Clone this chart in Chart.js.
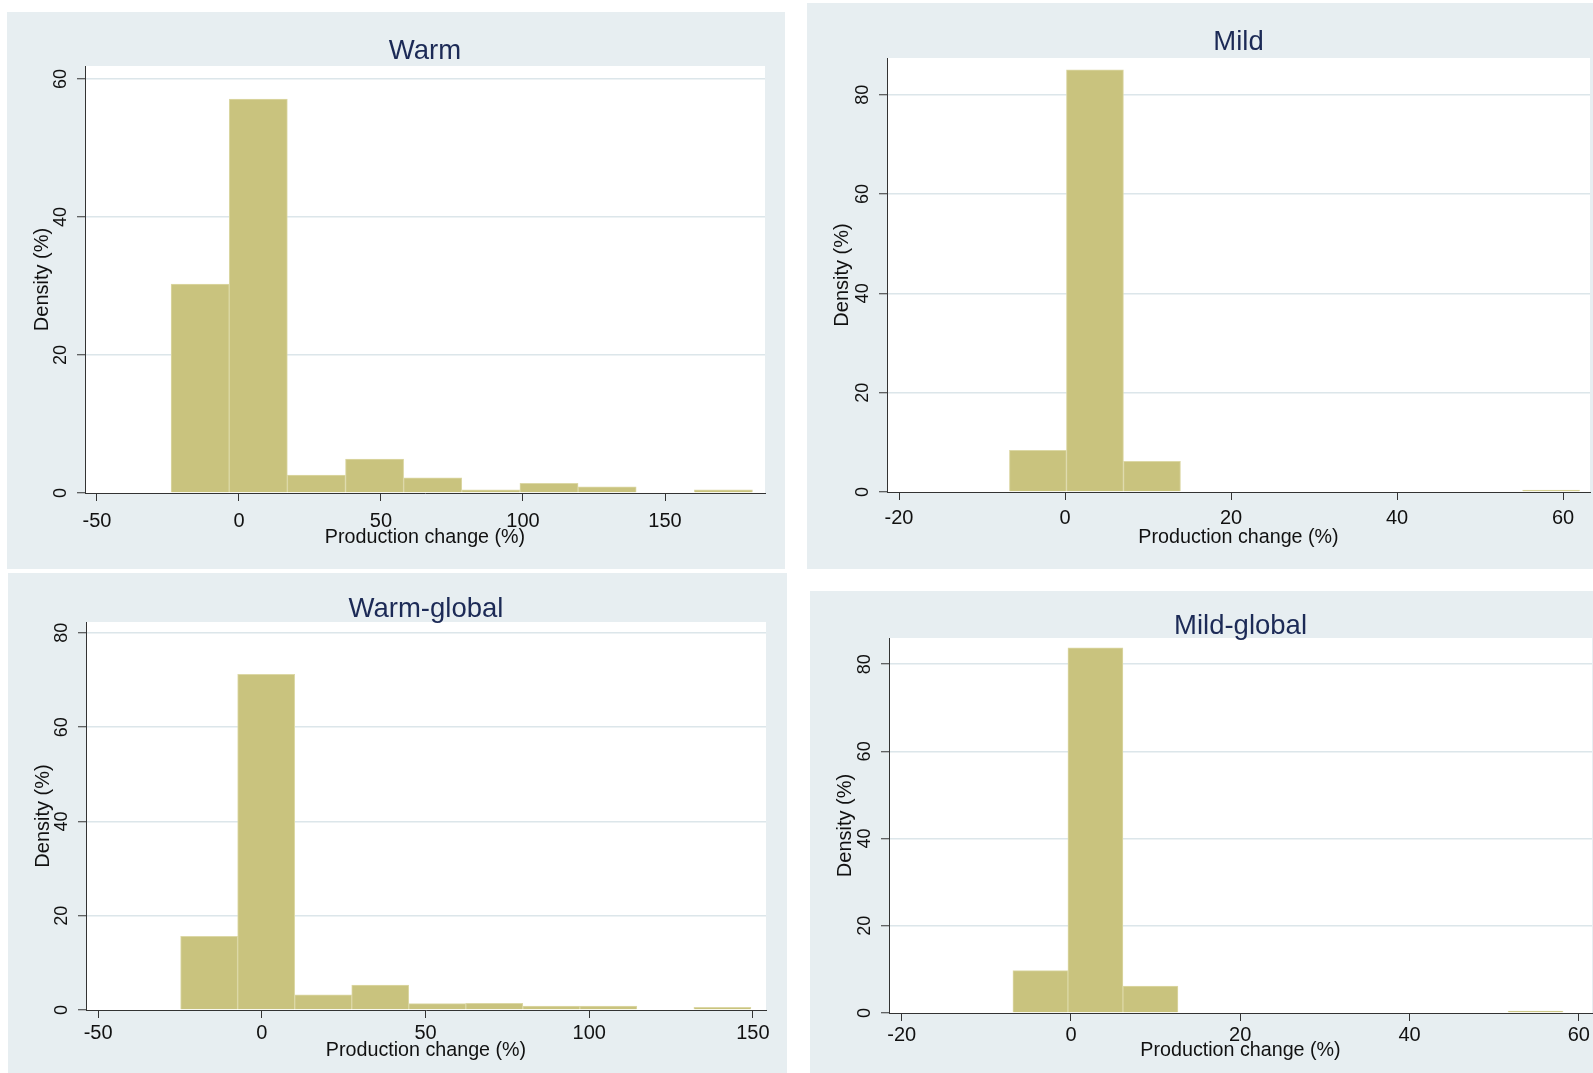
<!DOCTYPE html>
<html>
<head>
<meta charset="utf-8">
<script src="https://cdn.jsdelivr.net/npm/chart.js@4.4.1/dist/chart.umd.min.js"></script>
<style>
  html, body { margin: 0; padding: 0; background: #fff; }
  body { width: 1593px; height: 1073px; position: relative; overflow: hidden; }
  .panel { position: absolute; background: #e7eef1; }
  .panel canvas { display: block; }
</style>
</head>
<body>
<div class="panel" style="left:7px;top:12px;width:778px;height:557px"><canvas id="warm" width="778" height="557"></canvas></div>
<div class="panel" style="left:807px;top:3px;width:786px;height:566px"><canvas id="mild" width="786" height="566"></canvas></div>
<div class="panel" style="left:8px;top:573px;width:779px;height:500px"><canvas id="warmGlobal" width="779" height="500"></canvas></div>
<div class="panel" style="left:810px;top:591px;width:783px;height:482px"><canvas id="mildGlobal" width="783" height="482"></canvas></div>
<script>
// histogram bins: lower bound of each bin and its density (%)
const warmBinStarts = [-23.9, -3.43, 17.04, 37.51, 57.98, 78.45, 98.92, 119.39, 139.86, 160.33];
const warmDensity = [30.3, 57.1, 2.6, 4.9, 2.2, 0.47, 1.4, 0.9, 0, 0.47];
const warmXTicks = [-50, 0, 50, 100, 150];
const warmYTicks = [0, 20, 40, 60];

const mildBinStarts = [-6.7, 0.17, 7.04, 13.91, 20.78, 27.65, 34.52, 41.39, 48.26, 55.13];
const mildDensity = [8.4, 85.0, 6.2, 0, 0, 0, 0, 0, 0, 0.37];
const mildXTicks = [-20, 0, 20, 40, 60];
const mildYTicks = [0, 20, 40, 60, 80];

const warmGlobalBinStarts = [-24.8, -7.38, 10.04, 27.46, 44.88, 62.3, 79.72, 97.14, 114.56, 131.98];
const warmGlobalDensity = [15.6, 71.2, 3.2, 5.3, 1.35, 1.4, 0.85, 0.85, 0, 0.57];
const warmGlobalXTicks = [-50, 0, 50, 100, 150];
const warmGlobalYTicks = [0, 20, 40, 60, 80];

const mildGlobalBinStarts = [-6.86, -0.36, 6.14, 12.64, 19.14, 25.64, 32.14, 38.64, 45.14, 51.64];
const mildGlobalDensity = [9.7, 83.75, 6.2, 0, 0, 0, 0, 0, 0, 0.46];
const mildGlobalXTicks = [-20, 0, 20, 40, 60];
const mildGlobalYTicks = [0, 20, 40, 60, 80];

const FONT = "'Liberation Sans', Arial, sans-serif";
const AXIS_COLOR = '#333333';
const GRID_COLOR = '#dce6ea';
const BAR_FILL = '#c9c37e';
const BAR_EDGE = '#dcd8a6';

// white plot region inside the tinted panel
const plotBackground = {
  id: 'plotBackground',
  beforeDraw: (chart) => {
    const { ctx, chartArea } = chart;
    ctx.save();
    ctx.fillStyle = '#ffffff';
    ctx.fillRect(chartArea.left, chartArea.top, chartArea.right - chartArea.left, chartArea.bottom - chartArea.top);
    ctx.restore();
  },
};

const makeHistogram = (cfg) => {
  const width = cfg.binStarts[1] - cfg.binStarts[0];
  const points = cfg.binStarts.map((start, i) => ({ x: start + width / 2, y: cfg.density[i] }));

  return new Chart(document.getElementById(cfg.id), {
    type: 'bar',
    data: {
      datasets: [
        {
          data: points,
          backgroundColor: BAR_FILL,
          borderColor: BAR_EDGE,
          borderWidth: 1,
          borderSkipped: 'bottom',
          barPercentage: 1,
          categoryPercentage: 1,
        },
      ],
    },
    plugins: [plotBackground],
    options: {
      responsive: false,
      animation: false,
      devicePixelRatio: 1,
      layout: { padding: { left: 0, right: cfg.rightPad, top: 0, bottom: 0 } },
      plugins: {
        legend: { display: false },
        tooltip: { enabled: false },
        title: {
          display: true,
          fullSize: false,
          text: cfg.title,
          color: '#1c2a56',
          font: { family: FONT, size: 27.5, weight: 'normal', lineHeight: 0.8 },
          padding: { top: cfg.titleTop, bottom: cfg.titleBottom },
        },
      },
      scales: {
        x: {
          type: 'linear',
          offset: false,
          min: cfg.xMin,
          max: cfg.xMax,
          afterBuildTicks: (scale) => {
            scale.ticks = cfg.xTicks.map((v) => ({ value: v }));
          },
          afterFit: (scale) => {
            scale.height = cfg.xHeight;
          },
          grid: {
            offset: false,
            drawOnChartArea: false,
            drawTicks: true,
            tickLength: 8,
            tickColor: AXIS_COLOR,
            tickWidth: 1,
          },
          border: { display: true, color: AXIS_COLOR, width: 1 },
          ticks: {
            color: '#111',
            padding: cfg.xTickPad,
            font: { family: FONT, size: 20 },
            maxRotation: 0,
            autoSkip: false,
          },
          title: {
            display: true,
            text: 'Production change (%)',
            color: '#111',
            font: { family: FONT, size: 19.7 },
            padding: { top: 0, bottom: cfg.xTitleBottom },
          },
        },
        y: {
          min: 0,
          max: cfg.yMax,
          afterBuildTicks: (scale) => {
            scale.ticks = cfg.yTicks.map((v) => ({ value: v }));
          },
          afterFit: (scale) => {
            scale.width = cfg.yWidth;
          },
          grid: {
            color: (ctx) => (ctx.tick && ctx.tick.value === 0 ? 'rgba(0,0,0,0)' : GRID_COLOR),
            lineWidth: 1.5,
            drawTicks: true,
            tickLength: 8,
            tickColor: AXIS_COLOR,
            tickWidth: 1,
          },
          border: { display: true, color: AXIS_COLOR, width: 1 },
          ticks: {
            color: '#111',
            padding: 6,
            minRotation: 90,
            maxRotation: 90,
            crossAlign: 'center',
            font: { family: FONT, size: 18 },
          },
          title: {
            display: true,
            text: 'Density (%)',
            color: '#111',
            font: { family: FONT, size: 20 },
            padding: { top: 23, bottom: 0 },
          },
        },
      },
    },
  });
};

makeHistogram({
  id: 'warm', title: 'Warm',
  binStarts: warmBinStarts, density: warmDensity, xTicks: warmXTicks, yTicks: warmYTicks,
  xMin: -54.2, xMax: 185.2, yMax: 61.9,
  yWidth: 78, rightPad: 20, xHeight: 76, titleTop: 28, titleBottom: 4,
  xTickPad: 8, xTitleBottom: 19.7,
});

makeHistogram({
  id: 'mild', title: 'Mild',
  binStarts: mildBinStarts, density: mildDensity, xTicks: mildXTicks, yTicks: mildYTicks,
  xMin: -21.45, xMax: 63.25, yMax: 87.4,
  yWidth: 80, rightPad: 3, xHeight: 77, titleTop: 28.6, titleBottom: 4.4,
  xTickPad: 6.5, xTitleBottom: 19.7,
});

makeHistogram({
  id: 'warmGlobal', title: 'Warm-global',
  binStarts: warmGlobalBinStarts, density: warmGlobalDensity, xTicks: warmGlobalXTicks, yTicks: warmGlobalYTicks,
  xMin: -53.7, xMax: 154.0, yMax: 82.3,
  yWidth: 78, rightPad: 21, xHeight: 63, titleTop: 25.7, titleBottom: 1.3,
  xTickPad: 3.5, xTitleBottom: 10.2,
});

makeHistogram({
  id: 'mildGlobal', title: 'Mild-global',
  binStarts: mildGlobalBinStarts, density: mildGlobalDensity, xTicks: mildGlobalXTicks, yTicks: mildGlobalYTicks,
  xMin: -21.5, xMax: 61.56, yMax: 86.0,
  yWidth: 79, rightPad: 1, xHeight: 60, titleTop: 24.3, titleBottom: 0.7,
  xTickPad: 2.5, xTitleBottom: 10.2,
});
</script>
</body>
</html>
